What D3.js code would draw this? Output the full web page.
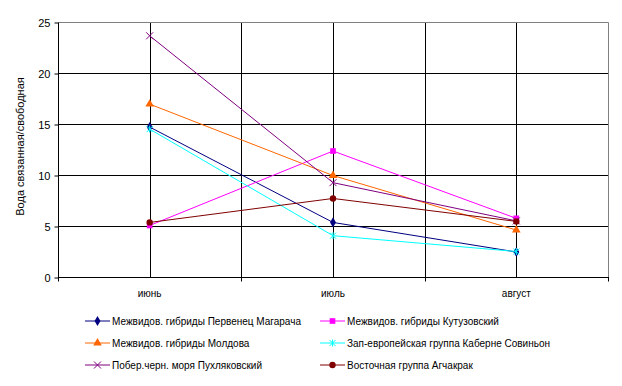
<!DOCTYPE html>
<html>
<head>
<meta charset="utf-8">
<script src="https://cdn.jsdelivr.net/npm/d3@7"></script>
<style>
  body { margin: 0; background: #fff; }
  text { font-family: "Liberation Sans", Arial, sans-serif; fill: #000; }
</style>
</head>
<body>
<svg id="chart" width="622" height="386"></svg>
<script>
// data
var months = ["июнь", "июль", "август"];
var seriesNames = [
  "Межвидов. гибриды Первенец Магарача",
  "Межвидов. гибриды Кутузовский",
  "Межвидов. гибриды Молдова",
  "Зап-европейская группа Каберне Совиньон",
  "Побер.черн. моря Пухляковский",
  "Восточная группа Агчакрак"
];
var pervenets = [14.7, 5.35, 2.45];
var kutuzovsky = [5.05, 12.35, 5.75];
var moldova = [16.95, 9.95, 4.6];
var cabernet = [14.5, 4.05, 2.5];
var pukhlyakovsky = [23.65, 9.25, 5.5];
var agchakrak = [5.35, 7.7, 5.45];
var yTicks = [0, 5, 10, 15, 20, 25];

var allValues = [pervenets, kutuzovsky, moldova, cabernet, pukhlyakovsky, agchakrak];
var colors = ["#000080", "#FF00FF", "#FF6600", "#00FFFF", "#800080", "#800000"];
var symbols = [d3.symbolDiamond, d3.symbolSquare, d3.symbolTriangle, "star", d3.symbolCross, d3.symbolCircle];

//setup variables
var margin = {top: 22, left: 58, right: 14, bottom: 109},
    width = 622 - margin.left - margin.right,
    height = 386 - margin.top - margin.bottom,
    svg = d3.select("#chart").append("g")
        .attr("transform", "translate(" + margin.left + "," + margin.top + ")"),
    x = d3.scaleBand().domain(months).range([0, width]),
    y = d3.scaleLinear().domain([0, 25]).range([height, 0]);

function cx(m) { return x(m) + x.bandwidth() / 2; }

// horizontal grid
svg.selectAll(".hgrid").data(yTicks.slice(1, -1)).enter().append("line")
    .attr("x1", 0).attr("x2", width)
    .attr("y1", function(d) { return y(d) + 0.5; })
    .attr("y2", function(d) { return y(d) + 0.5; })
    .attr("stroke", "#000").attr("stroke-width", 1);

// vertical grid: category centres and boundaries
var vlines = [];
months.forEach(function(m, i) {
  vlines.push(cx(m));
  if (i > 0) vlines.push(x(m));
});
svg.selectAll(".vgrid").data(vlines).enter().append("line")
    .attr("x1", function(d) { return Math.round(d) + 0.5; })
    .attr("x2", function(d) { return Math.round(d) + 0.5; })
    .attr("y1", 0).attr("y2", height)
    .attr("stroke", "#000").attr("stroke-width", 1);

// plot border (top/right grey)
svg.append("path")
    .attr("d", "M0.5,0.5H" + (width + 0.5) + "V" + height)
    .attr("fill", "none").attr("stroke", "#808080");

// y axis
var yAxis = svg.append("g")
    .attr("transform", "translate(0.5,0.5)")
    .call(d3.axisLeft(y).tickValues(yTicks).tickSize(4).tickPadding(4));
yAxis.select(".domain").remove();
yAxis.append("line").attr("x1", 0).attr("x2", 0).attr("y1", 0).attr("y2", height).attr("stroke", "#000");
yAxis.selectAll("text").style("font-size", "11px").style("font-family", "Liberation Sans, Arial, sans-serif");

// x axis
var xAxis = svg.append("g").attr("transform", "translate(0," + (height + 0.5) + ")");
xAxis.append("line").attr("x1", 0).attr("x2", width + 1).attr("stroke", "#000");
var bounds = [0].concat(months.map(function(m) { return x(m) + x.bandwidth(); }));
xAxis.selectAll(".xtick").data(bounds).enter().append("line")
    .attr("x1", function(d) { return Math.round(d) + 0.5; })
    .attr("x2", function(d) { return Math.round(d) + 0.5; })
    .attr("y1", 0).attr("y2", 4).attr("stroke", "#000");
xAxis.selectAll(".xlab").data(months).enter().append("text")
    .attr("x", function(d) { return cx(d); })
    .attr("y", 19)
    .attr("text-anchor", "middle")
    .style("font-size", "10px")
    .text(function(d) { return d; });

// y axis title
svg.append("text")
    .attr("transform", "translate(-34," + (height / 2 - 3) + ") rotate(-90)")
    .attr("text-anchor", "middle")
    .style("font-size", "11px")
    .text("Вода связанная/свободная");

function drawMarker(g, type, color) {
  if (type === "star") {
    g.append("path").attr("d", "M-3,-3L3,3M-3,3L3,-3M0,-3.5V3.5").attr("stroke", color).attr("fill", "none");
  } else if (type === d3.symbolCross) {
    g.append("path").attr("d", "M-3.5,-3.5L3.5,3.5M-3.5,3.5L3.5,-3.5").attr("stroke", color).attr("fill", "none");
  } else {
    g.append("path").attr("d", d3.symbol().type(type).size(type === d3.symbolDiamond ? 30 : 32)).attr("fill", color);
  }
}

var valueline = d3.line()
    .x(function(d, i) { return cx(months[i]); })
    .y(function(d) { return y(d); });

allValues.forEach(function(vals, s) {
  svg.append("path")
      .datum(vals)
      .attr("d", valueline)
      .attr("fill", "none")
      .attr("stroke", colors[s])
      .attr("stroke-width", 1);
  vals.forEach(function(v, i) {
    var g = svg.append("g").attr("transform", "translate(" + cx(months[i]) + "," + y(v) + ")");
    drawMarker(g, symbols[s], colors[s]);
  });
});

// legend
var legend = d3.select("#chart").append("g");
seriesNames.forEach(function(name, s) {
  var col = s % 2, row = Math.floor(s / 2);
  var lx = col === 0 ? 85 : 320, ly = 321 + row * 22;
  legend.append("line").attr("x1", lx).attr("x2", lx + 25).attr("y1", ly).attr("y2", ly)
      .attr("stroke", colors[s]).attr("stroke-width", 1);
  var g = legend.append("g").attr("transform", "translate(" + (lx + 12.5) + "," + ly + ")");
  drawMarker(g, symbols[s], colors[s]);
  legend.append("text").attr("x", lx + 27).attr("y", ly + 3.5)
      .style("font-size", "10px")
      .text(name);
});
</script>
</body>
</html>
